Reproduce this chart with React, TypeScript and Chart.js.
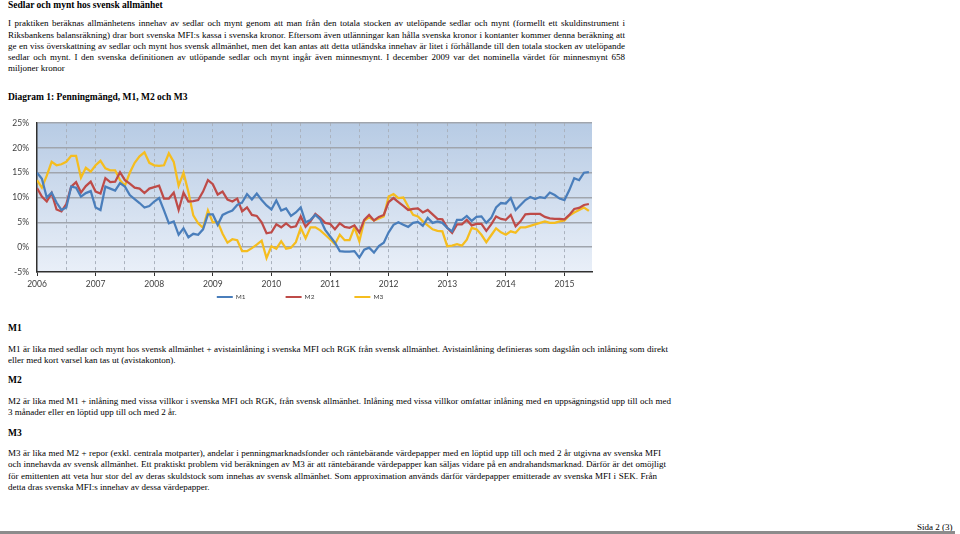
import React, { useEffect, useRef } from 'react';
import { Chart, registerables } from 'chart.js';

Chart.register(...registerables);

// ---------- Data ----------
const START_YEAR = 2006;
const MONTH_COUNT = 114; // Jan 2006 .. Jun 2015
const months: string[] = Array.from({ length: MONTH_COUNT }, (_, i) =>
  `${START_YEAR + Math.floor(i / 12)}-${String((i % 12) + 1).padStart(2, '0')}`
);

const M1 = [
  15.0, 13.8, 10.0, 11.0, 9.0, 7.5, 8.0, 12.2, 12.0, 10.2, 10.9, 11.3,
  8.0, 7.5, 12.2, 11.8, 11.4, 12.9, 12.2, 10.5, 9.7, 8.9, 8.0, 8.3,
  9.2, 9.9, 7.4, 4.8, 5.2, 2.5, 3.8, 2.0, 2.7, 2.5, 3.6, 6.6,
  6.6, 4.5, 6.5, 7.0, 7.4, 8.5, 9.0, 10.7, 9.6, 10.8, 9.5, 8.4,
  7.6, 9.4, 7.4, 7.8, 6.3, 7.0, 8.0, 5.0, 5.5, 6.5, 5.6, 3.5,
  2.2, 0.9, -0.8, -0.9, -0.9, -0.8, -2.1, -0.5, -0.1, -1.1, 0.2, 0.9,
  3.0, 4.5, 5.0, 4.5, 4.1, 4.9, 5.1, 4.3, 5.9, 4.9, 5.2, 4.9,
  3.9, 3.2, 5.5, 5.5, 6.3, 5.3, 6.1, 6.2, 4.9, 5.9, 8.0, 8.9,
  8.8, 9.9, 7.5, 8.5, 9.5, 10.1, 9.7, 10.1, 9.9, 11.0, 10.5, 9.8,
  9.5, 11.5, 13.9, 13.5, 15.0, 15.1,
];

const M2 = [
  11.9, 10.2, 9.2, 10.9, 7.6, 7.2, 8.7, 12.2, 13.1, 11.0, 12.3, 13.2,
  11.2, 10.8, 13.9, 13.1, 13.2, 15.1, 13.5, 12.8, 12.0, 11.8, 10.9, 11.8,
  12.1, 12.4, 9.8, 9.8, 11.0, 7.5, 11.0, 9.2, 9.3, 9.5, 11.2, 13.5,
  12.7, 10.6, 11.2, 9.6, 9.2, 9.8, 7.2, 8.0, 6.5, 6.3, 5.0, 2.8,
  3.0, 4.6, 4.0, 4.8, 4.0, 4.2, 6.2, 4.1, 5.2, 6.7, 5.9, 4.9,
  4.7, 3.6, 4.8, 4.1, 3.9, 4.4, 3.0, 5.5, 6.5, 5.4, 6.1, 6.5,
  9.1, 9.9, 9.1, 8.3, 7.5, 7.7, 7.8, 7.0, 7.5, 6.6, 5.7, 5.6,
  3.9, 2.9, 4.6, 4.6, 5.5, 4.4, 4.7, 4.7, 3.3, 4.6, 6.2, 5.7,
  5.5, 6.5, 4.2, 5.2, 6.6, 6.7, 6.7, 6.7, 6.1, 5.8, 5.7, 5.7,
  5.6, 6.5, 7.7, 7.9, 8.5, 8.7,
];

const M3 = [
  13.5, 12.0, 14.4, 17.2, 16.5, 16.7, 17.2, 18.4, 18.4, 14.0, 16.0, 15.2,
  16.5, 17.4, 15.9, 15.5, 15.5, 13.5, 12.4, 15.0, 17.0, 18.3, 19.1, 17.0,
  16.5, 16.4, 16.5, 18.9, 17.2, 12.4, 15.0, 11.1, 6.4, 4.8, 3.9, 7.4,
  5.0, 5.1, 2.7, 0.9, 1.6, 1.4, -0.8, -0.8, -0.2, 0.5, 1.3, -2.2,
  0.2, -0.3, 1.2, -0.3, -0.1, 1.0, 3.9, 1.8, 4.0, 4.0, 3.4, 2.5,
  1.6, 0.6, 2.5, 1.4, 1.4, 4.0, 1.2, 5.3, 6.0, 5.4, 5.8, 6.2,
  10.2, 10.7, 9.9, 10.0, 8.2, 6.5, 6.2, 5.2, 4.4, 3.6, 3.3, 3.2,
  0.2, 0.3, 0.6, 0.3, 1.5, 3.9, 3.6, 2.5, 1.0, 2.4, 3.8, 3.0,
  2.5, 3.2, 2.9, 4.0, 4.0, 4.3, 4.6, 4.9, 5.2, 4.9, 4.9, 5.2,
  5.4, 6.4, 7.0, 7.5, 8.0, 7.3,
];

const SERIES_LABELS = ['M1', 'M2', 'M3'];
const SERIES_COLORS = ['#4A7EBB', '#BE4B48', '#F5BD1F'];
const Y_MIN = -5;
const Y_MAX = 25;
const Y_STEP = 5;
const X_MIN = 2006;
const X_MAX = 2015.47;

// ---------- Page text ----------
const TITLE = 'Sedlar och mynt hos svensk allmänhet';
const INTRO_LINES = [
  'I praktiken beräknas allmänhetens innehav av sedlar och mynt genom att man från den totala stocken av utelöpande sedlar och mynt (formellt ett skuldinstrument i',
  'Riksbankens balansräkning) drar bort svenska MFI:s kassa i svenska kronor. Eftersom även utlänningar kan hålla svenska kronor i kontanter kommer denna beräkning att',
  'ge en viss överskattning av sedlar och mynt hos svensk allmänhet, men det kan antas att detta utländska innehav är litet i förhållande till den totala stocken av utelöpande',
  'sedlar och mynt. I den svenska definitionen av utlöpande sedlar och mynt ingår även minnesmynt. I december 2009 var det nominella värdet för minnesmynt 658',
  'miljoner kronor',
];
const DIAGRAM_TITLE = 'Diagram 1: Penningmängd, M1, M2 och M3';
const M1_LINES = [
  'M1 är lika med sedlar och mynt hos svensk allmänhet + avistainlåning i svenska MFI och RGK från svensk allmänhet. Avistainlåning definieras som dagslån och inlåning som direkt',
  'eller med kort varsel kan tas ut (avistakonton).',
];
const M2_LINES = [
  'M2 är lika med M1 + inlåning med vissa villkor i svenska MFI och RGK, från svensk allmänhet. Inlåning med vissa villkor omfattar inlåning med en uppsägningstid upp till och med',
  '3 månader eller en löptid upp till och med 2 år.',
];
const M3_LINES = [
  'M3 är lika med M2 + repor (exkl. centrala motparter), andelar i penningmarknadsfonder och räntebärande värdepapper med en löptid upp till och med 2 år utgivna av svenska MFI',
  'och innehavda av svensk allmänhet. Ett praktiskt problem vid beräkningen av M3 är att räntebärande värdepapper kan säljas vidare på en andrahandsmarknad. Därför är det omöjligt',
  'för emittenten att veta hur stor del av deras skuldstock som innehas av svensk allmänhet. Som approximation används därför värdepapper emitterade av svenska MFI i SEK. Från',
  'detta dras svenska MFI:s innehav av dessa värdepapper.',
];
const PAGE_FOOTER = 'Sida 2 (3)';

// ---------- Helpers ----------
const monthToX = (m: string) => {
  const [y, mo] = m.split('-').map(Number);
  return y + (mo - 1) / 12;
};
const isWhole = (v: number) => Math.abs(v - Math.round(v)) < 1e-6;

const FONT = '"Liberation Serif", "Times New Roman", serif';

type LineProps = { top: number; text: string; width?: number; bold?: boolean; size?: number; left?: number };
function TextLine({ top, text, width, bold, size = 9, left = 8 }: LineProps) {
  const style: React.CSSProperties = {
    position: 'absolute',
    left,
    top,
    fontFamily: FONT,
    fontSize: size,
    lineHeight: '11px',
    fontWeight: bold ? 'bold' : 'normal',
    whiteSpace: 'nowrap',
    color: '#000',
  };
  if (width) {
    style.width = width;
    style.textAlign = 'justify';
    (style as any).textAlignLast = 'justify';
  }
  return <div style={style}>{text}</div>;
}

function MoneyChart() {
  const ref = useRef<HTMLCanvasElement>(null);
  useEffect(() => {
    if (!ref.current) return;
    const toXY = (arr: number[]) => arr.map((v, i) => ({ x: monthToX(months[i]), y: v }));
    const bgPlugin = {
      id: 'plotBg',
      beforeDraw(chart: any) {
        const { ctx, chartArea: a } = chart;
        const g = ctx.createLinearGradient(0, a.top, 0, a.bottom);
        g.addColorStop(0, '#b7cbe4');
        g.addColorStop(1, '#e9eff8');
        ctx.save();
        ctx.fillStyle = g;
        ctx.fillRect(a.left, a.top, a.right - a.left, a.bottom - a.top);
        ctx.restore();
      },
    };
    const legendPlugin = {
      id: 'lineLegend',
      afterDraw(chart: any) {
        const { ctx } = chart;
        const ds = chart.data.datasets;
        ctx.save();
        ctx.font = '6.5px Lato, "Liberation Sans", sans-serif';
        const lineLen = 16;
        const gap = 3;
        const spacing = 40;
        const widths = ds.map((d: any) => lineLen + gap + ctx.measureText(d.label).width);
        const total = widths.reduce((s: number, w: number) => s + w, 0) + spacing * (ds.length - 1);
        let x = chart.width / 2 - total / 2;
        const y = chart.chartArea.bottom + 25;
        ds.forEach((d: any, i: number) => {
          ctx.strokeStyle = d.borderColor;
          ctx.lineWidth = 2;
          ctx.beginPath();
          ctx.moveTo(x, y);
          ctx.lineTo(x + lineLen, y);
          ctx.stroke();
          ctx.fillStyle = '#404040';
          ctx.textBaseline = 'middle';
          ctx.textAlign = 'left';
          ctx.fillText(d.label, x + lineLen + gap, y);
          x += widths[i] + spacing;
        });
        ctx.restore();
      },
    };
    const tickFont = { family: 'Lato, "Liberation Sans", sans-serif', size: 8.5 };
    const chart = new Chart(ref.current, {
      type: 'line',
      data: {
        datasets: [M1, M2, M3].map((arr, i) => ({
          label: SERIES_LABELS[i],
          data: toXY(arr),
          borderColor: SERIES_COLORS[i],
          backgroundColor: SERIES_COLORS[i],
          borderWidth: 2.25,
          pointRadius: 0,
          tension: 0,
        })),
      },
      options: {
        animation: false,
        responsive: false,
        devicePixelRatio: 1,
        layout: { padding: { top: 13, right: 8, left: 0, bottom: 21 } },
        plugins: { legend: { display: false }, tooltip: { enabled: false } },
        scales: {
          x: {
            type: 'linear',
            min: X_MIN,
            max: X_MAX,
            afterFit: (s: any) => { s.height = 17; },
            ticks: {
              stepSize: 0.5,
              includeBounds: false,
              autoSkip: false,
              maxRotation: 0,
              padding: 3,
              color: '#404040',
              font: tickFont,
              callback: (v: any) => (isWhole(Number(v)) ? String(Math.round(Number(v))) : ''),
            },
            grid: {
              color: (c: any) => (c.tick && Math.abs(c.tick.value - X_MIN) < 1e-6 ? 'rgba(0,0,0,0)' : '#aab2be'),
              lineWidth: 1,
              drawTicks: true,
              tickLength: 4,
              tickColor: (c: any) => (c.tick && isWhole(c.tick.value) ? '#303030' : 'rgba(0,0,0,0)'),
              tickWidth: 1,
            },
            border: { display: true, color: '#303030', width: 1.5, dash: [3, 3] },
          },
          y: {
            min: Y_MIN,
            max: Y_MAX,
            afterFit: (s: any) => { s.width = 37; },
            ticks: {
              stepSize: Y_STEP,
              padding: 8,
              color: '#404040',
              font: tickFont,
              callback: (v: any) => `${v}%`,
            },
            grid: {
              color: (c: any) => (c.tick && c.tick.value === Y_MIN ? 'rgba(0,0,0,0)' : '#a0a5ad'),
              lineWidth: 1.6,
              drawTicks: false,
            },
            border: { display: true, color: '#303030', width: 1.5 },
          },
        },
      },
      plugins: [bgPlugin, legendPlugin],
    } as any);
    return () => chart.destroy();
  }, []);
  return (
    <canvas
      ref={ref}
      width={600}
      height={200}
      style={{ position: 'absolute', left: 0, top: 110, width: 600, height: 200 }}
    />
  );
}

export default function App() {
  const introTops = [18.2, 29.7, 41.2, 52.2, 63.2];
  return (
    <div style={{ position: 'absolute', left: 0, top: 0, width: 960, height: 534, background: '#fff', overflow: 'hidden' }}>
      <TextLine top={0} text={TITLE} bold size={9.5} />
      {INTRO_LINES.map((t, i) => (
        <TextLine key={'i' + i} top={introTops[i]} text={t} width={i < INTRO_LINES.length - 1 ? 617 : undefined} />
      ))}
      <TextLine top={92.2} text={DIAGRAM_TITLE} bold size={9.5} />
      <MoneyChart />
      <TextLine top={323.2} text="M1" bold size={9.5} />
      <TextLine top={344.2} text={M1_LINES[0]} width={660} />
      <TextLine top={355} text={M1_LINES[1]} />
      <TextLine top={375.2} text="M2" bold size={9.5} />
      <TextLine top={396.2} text={M2_LINES[0]} width={663} />
      <TextLine top={407.2} text={M2_LINES[1]} />
      <TextLine top={428.2} text="M3" bold size={9.5} />
      <TextLine top={448.2} text={M3_LINES[0]} width={653} />
      <TextLine top={459.4} text={M3_LINES[1]} width={658} />
      <TextLine top={470.8} text={M3_LINES[2]} width={649} />
      <TextLine top={482.2} text={M3_LINES[3]} />
      <TextLine top={521.5} left={917} text={PAGE_FOOTER} />
      <div style={{ position: 'absolute', left: 0, top: 531, width: 955, height: 3, background: '#8c8c8c' }} />
    </div>
  );
}
